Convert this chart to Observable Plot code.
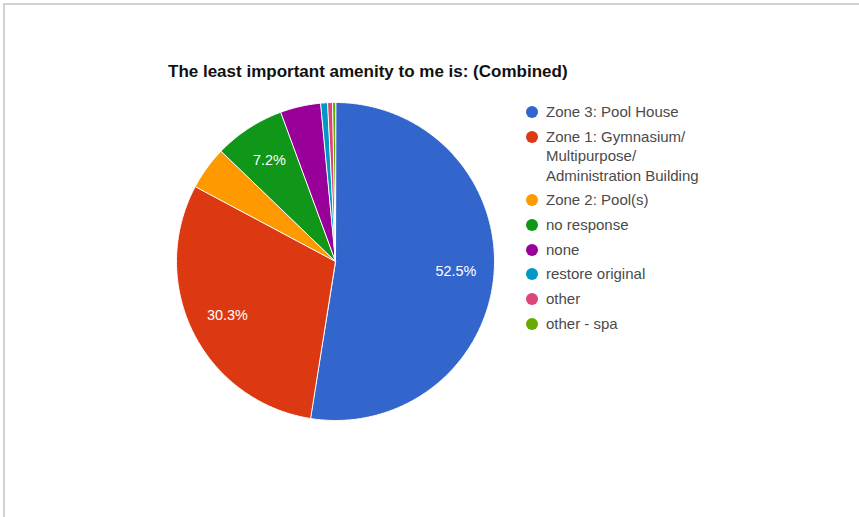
<!DOCTYPE html>
<html>
<head>
<meta charset="utf-8">
<script src="https://cdn.jsdelivr.net/npm/d3@7"></script>
<script src="https://cdn.jsdelivr.net/npm/@observablehq/plot@0.6"></script>
<style>
  html, body { margin: 0; padding: 0; background: #fff; }
  #wrap { position: relative; width: 859px; height: 517px; overflow: hidden; font-family: Arial, "Liberation Sans", sans-serif; }
  #frame { position: absolute; left: 3px; top: 3px; right: -10px; bottom: -10px; border-top: 2px solid #d2d2d2; border-left: 2px solid #d2d2d2; }
  #title { position: absolute; left: 168px; top: 62px; font-weight: bold; font-size: 17px; line-height: 20px; color: #111; white-space: nowrap; }
  #legend { position: absolute; left: 526px; top: 102px; }
  .item { display: flex; align-items: flex-start; margin-bottom: 5.2px; }
  .sw { width: 12px; height: 12px; border-radius: 50%; margin-top: 4px; margin-right: 8px; flex: none; }
  .lab { font-size: 15px; line-height: 19.5px; color: #4a4a4a; width: 175px; }
  #chart { position: absolute; left: 0; top: 0; }
</style>
</head>
<body>
<div id="wrap">
  <div id="frame"></div>
  <div id="chart"></div>
  <div id="title">The least important amenity to me is: (Combined)</div>
  <div id="legend"></div>
</div>
<script>
const categories = ["Zone 3: Pool House", "Zone 1: Gymnasium/Multipurpose/Administration Building", "Zone 2: Pool(s)", "no response", "none", "restore original", "other", "other - spa"];
const values = [52.5, 30.3, 4.4, 7.2, 4.1, 0.7, 0.5, 0.3];
const colors = ["#3366cc", "#dc3912", "#ff9900", "#109618", "#990099", "#0099c6", "#dd4477", "#66aa00"];

const data = categories.map((name, i) => ({name, value: values[i]}));
const total = d3.sum(values);
const arcs = d3.pie().value(d => d.value).sort(null)(data);

// polygon outline points for each slice in unit-circle data space
const pts = [];
for (const a of arcs) {
  const n = Math.max(2, Math.ceil((a.endAngle - a.startAngle) / (Math.PI / 360)));
  pts.push({name: a.data.name, x: 0, y: 0});
  for (let k = 0; k <= n; k++) {
    const t = a.startAngle + (a.endAngle - a.startAngle) * k / n;
    pts.push({name: a.data.name, x: Math.sin(t), y: Math.cos(t)});
  }
}
const labels = arcs.filter(a => a.data.value / total >= 0.05).map(a => {
  const m = (a.startAngle + a.endAngle) / 2;
  return {x: 0.76 * Math.sin(m), y: 0.76 * Math.cos(m), text: (a.data.value / total * 100).toFixed(1) + "%"};
});

const plot = Plot.plot({
  width: 859,
  height: 517,
  marginLeft: 176,
  marginRight: 365,
  marginTop: 102,
  marginBottom: 97,
  x: {domain: [-1, 1], axis: null},
  y: {domain: [-1, 1], axis: null},
  color: {domain: categories, range: colors},
  style: {background: "transparent", overflow: "visible"},
  marks: [
    Plot.line(pts, {x: "x", y: "y", z: "name", fill: "name", stroke: "white", strokeWidth: 1, curve: "linear-closed"}),
    Plot.text(labels, {x: "x", y: "y", text: "text", fill: "white", fontSize: 14.4, fontFamily: "Arial, 'Liberation Sans', sans-serif"})
  ]
});
document.getElementById("chart").appendChild(plot);

const legend = document.getElementById("legend");
categories.forEach((c, i) => {
  const it = document.createElement("div");
  it.className = "item";
  const sw = document.createElement("div");
  sw.className = "sw";
  sw.style.background = colors[i];
  const lab = document.createElement("div");
  lab.className = "lab";
  lab.textContent = c.split("/").join("/\u200B");
  it.appendChild(sw);
  it.appendChild(lab);
  legend.appendChild(it);
});
</script>
</body>
</html>
